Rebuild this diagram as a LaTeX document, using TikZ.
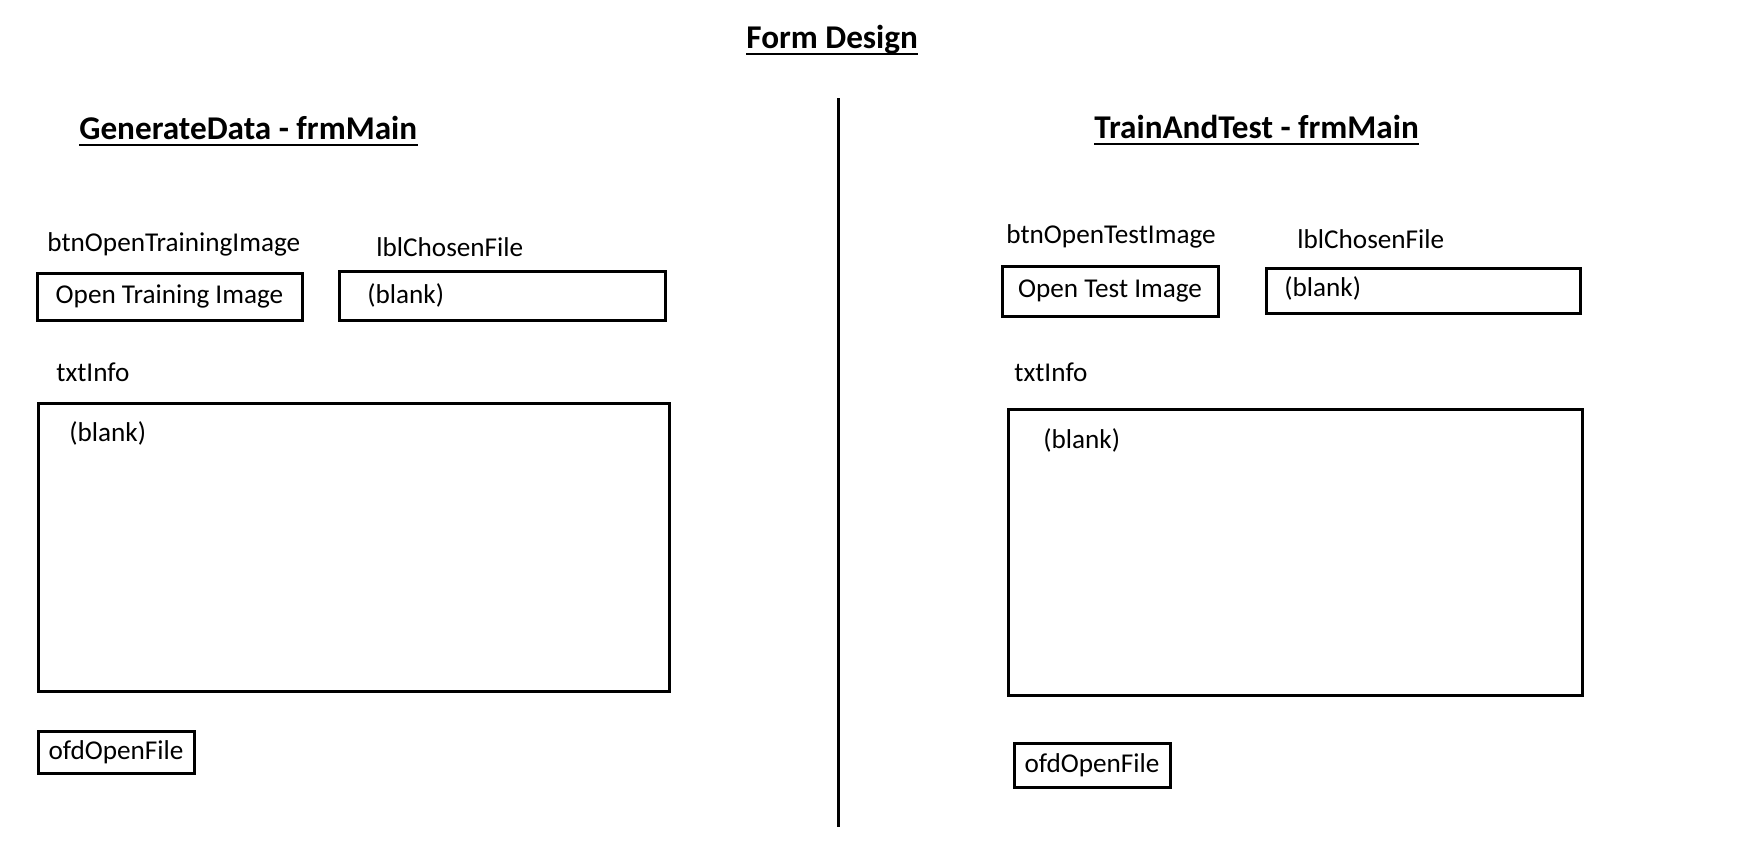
\documentclass[tikz,border=0pt]{standalone}
\usepackage{fontspec}
\setmainfont{Carlito}
\begin{document}
\begin{tikzpicture}[x=0.5pt,y=-0.5pt,
  lbl/.style={anchor=base west,inner sep=0pt,font=\fontsize{13.6}{16}\selectfont},
  ttl/.style={anchor=base west,inner sep=0pt,font=\fontsize{16.6}{20}\selectfont\bfseries},
  box/.style={draw,line width=1.5pt,inner sep=0pt,font=\fontsize{13.6}{16}\selectfont},
  uline/.style={line width=1.2pt},
  divider/.style={line width=1.5pt}]
\useasboundingbox (0,0) rectangle (1743,851);

% headings
\node[ttl] (fd) at (746,48) {Form Design};
\node[ttl] (gd) at (79,139) {GenerateData - frmMain};
\node[ttl] (tt) at (1094,138) {TrainAndTest - frmMain};
\draw[uline] ([yshift=-3pt]fd.base west) -- ([yshift=-3pt]fd.base east);
\draw[uline] ([yshift=-3pt]gd.base west) -- ([yshift=-3pt]gd.base east);
\draw[uline] ([yshift=-3pt]tt.base west) -- ([yshift=-3pt]tt.base east);

% divider between the two forms
\coordinate (divtop) at (838,98);
\coordinate (divbot) at (838,827);
\draw[divider] (divtop) -- (divbot);

% GenerateData form
\node[lbl] (gdbtnname) at (47,251) {btnOpenTrainingImage};
\node[lbl] (gdlblname) at (376,256) {lblChosenFile};
\node[box,minimum width=132.5pt,minimum height=23.5pt] (gdbtn) at (169.5,296.5) {Open Training Image};
\node[box,minimum width=163pt,minimum height=24.5pt] (gdlbl) at (502,295.5) {};
\node[lbl] (gdlbltext) at (367,303) {(blank)};
\node[lbl] (gdtxtname) at (56,381) {txtInfo};
\node[box,minimum width=315.5pt,minimum height=144pt] (gdtxt) at (353.5,547) {};
\node[lbl] (gdtxttext) at (69,441) {(blank)};
\node[box,minimum width=78pt,minimum height=21pt] (gdofd) at (116,752) {ofdOpenFile};

% TrainAndTest form
\node[lbl] (ttbtnname) at (1006,243) {btnOpenTestImage};
\node[lbl] (ttlblname) at (1297,248) {lblChosenFile};
\node[box,minimum width=108pt,minimum height=25pt] (ttbtn) at (1110,291) {Open Test Image};
\node[box,minimum width=157pt,minimum height=22.5pt] (ttlbl) at (1423,290.5) {};
\node[lbl] (ttlbltext) at (1284,296) {(blank)};
\node[lbl] (tttxtname) at (1014,381) {txtInfo};
\node[box,minimum width=287pt,minimum height=143pt] (tttxt) at (1295,552) {};
\node[lbl] (tttxttext) at (1043,448) {(blank)};
\node[box,minimum width=78pt,minimum height=22pt] (ttofd) at (1092,765) {ofdOpenFile};
\end{tikzpicture}
\end{document}
